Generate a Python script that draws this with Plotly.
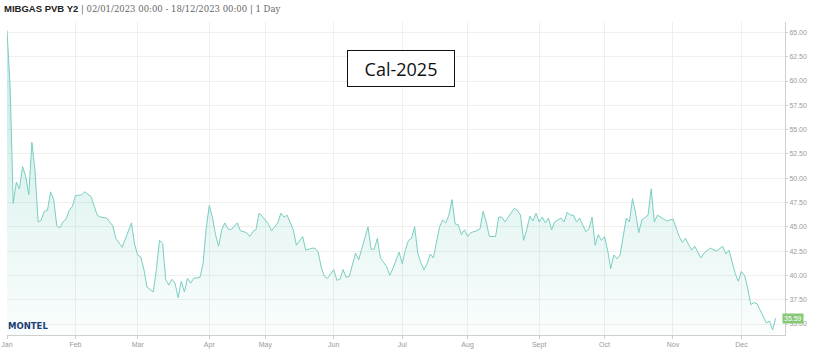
import pandas as pd
import plotly.graph_objects as go

# ---- data ----
series_name = "MIBGAS PVB Y2"
period_text = "02/01/2023 00:00 - 18/12/2023 00:00"
resolution = "1 Day"
annotation_label = "Cal-2025"
last_value = 35.59

start_date = "2023-01-02"
end_date = "2023-12-18"
exchange_holidays = ["2023-04-07", "2023-04-10", "2023-05-01"]

# trading-day index (0 = first trading day) and settlement price (EUR/MWh)
day_idx = [
    0, 1, 2, 3, 4, 5, 6, 7, 8, 9, 10, 11, 12, 13, 14, 15, 16, 17, 18, 19,
    20, 21, 22, 24, 25, 27, 29, 30, 32, 34, 35, 37, 40, 41,
    42, 43, 44, 45, 47, 48, 49, 50, 51, 52, 53, 54, 55, 56, 57, 58, 59, 60,
    62, 63, 64, 65, 66, 67, 68, 69, 70, 71, 72, 74, 75, 77, 78, 79, 80, 81, 82,
    84, 85, 87, 88, 89, 90, 92, 93, 95, 96, 98, 99, 100, 101, 102, 103,
    105, 106, 107, 108, 109, 110, 112, 113, 115, 116, 117, 118, 119, 120, 122, 123,
    124, 125, 126, 127, 128, 129, 130, 131, 132, 133, 134, 135, 136, 137, 138,
    139, 140, 141, 142, 143, 144, 145, 146, 147, 148, 149, 151, 152, 153, 154, 155,
    157, 158, 159, 160, 162, 163, 164, 165, 166, 167, 168, 169, 170, 171, 172,
    173, 174, 175, 176, 177, 178, 179, 180, 181, 182, 183, 184, 185, 186, 187,
    188, 189, 190, 191, 192, 193, 194, 195, 196, 197, 198, 199, 200, 201, 202,
    203, 204, 206, 207, 208, 209, 210, 212, 214, 216, 217, 218, 220, 221, 223,
    224, 226, 228, 230, 231, 232, 233, 234, 235, 236, 237, 238, 239, 240, 241,
    242, 244, 245, 246, 247,
]
price = [
    65.2, 59.4, 47.4, 49.6, 48.9, 51.2, 50.2, 48.3, 53.7, 50.8, 45.5, 45.7, 46.6, 46.7, 48.6, 47.8, 45.1, 44.9, 45.5, 45.8,
    46.7, 47.1, 48.2, 48.3, 48.6, 48.1, 46.2, 46.0, 45.9, 45.1, 43.8, 42.9, 45.4, 43.2,
    42.1, 41.9, 40.6, 38.8, 38.3, 40.6, 43.6, 43.3, 39.6, 39.0, 39.6, 39.2, 37.7, 39.4, 38.3, 39.7, 39.2, 39.7,
    39.8, 41.2, 44.8, 47.2, 46.0, 44.2, 43.0, 44.7, 45.4, 44.8, 44.7, 45.4, 44.6, 44.4, 44.0, 44.5, 44.7, 46.4, 46.1,
    45.3, 44.6, 45.4, 46.4, 46.0, 46.2, 44.7, 43.1, 44.0, 42.6, 42.8, 42.8, 42.4, 40.8, 39.9, 39.7,
    40.6, 39.5, 39.6, 40.6, 39.8, 39.9, 42.3, 41.6, 43.8, 45.0, 42.7, 42.7, 43.8, 41.8, 40.9, 40.0,
    40.7, 41.6, 42.4, 41.2, 42.6, 43.6, 43.8, 45.0, 42.3, 41.3, 40.6, 41.2, 42.2, 41.8, 43.6,
    45.0, 45.7, 45.4, 46.2, 47.8, 45.3, 45.2, 44.2, 44.7, 44.0, 44.4, 44.6, 44.8, 46.6, 45.5, 44.0,
    44.0, 46.0, 46.0, 45.5, 46.4, 46.9, 46.7, 46.2, 43.6, 44.7, 46.1, 45.6, 46.4, 45.5, 46.0,
    45.4, 45.9, 44.7, 45.5, 45.7, 45.9, 45.5, 46.5, 46.2, 46.2, 45.5, 45.9, 45.2, 44.5, 44.8,
    46.0, 43.1, 44.2, 43.6, 44.0, 42.6, 40.7, 42.1, 41.7, 42.1, 44.0, 45.9, 45.5, 47.9, 46.4,
    44.4, 45.7, 46.2, 48.9, 45.5, 46.2, 46.0, 45.6, 45.8, 44.0, 43.4, 43.8, 42.6, 43.0, 41.8,
    42.3, 42.8, 42.5, 43.0, 42.2, 42.6, 41.4, 40.2, 39.4, 40.4, 40.0, 38.7, 37.0, 37.2, 37.1,
    36.4, 35.1, 35.3, 34.4, 35.59,
]

month_labels = ["Jan", "Feb", "Mar", "Apr", "May", "Jun",
                "Jul", "Aug", "Sept", "Oct", "Nov", "Dec"]
y_ticks = [35.0, 37.5, 40.0, 42.5, 45.0, 47.5, 50.0, 52.5, 55.0, 57.5, 60.0, 62.5, 65.0]

# ---- derived ----
trade_days = pd.bdate_range(start_date, end_date, freq="C", holidays=exchange_holidays)
dates = trade_days[day_idx]
first_of_month = pd.Series(trade_days).groupby(trade_days.month).min().tolist()

LINE = "rgb(122,206,195)"
GRID = "#efefef"
AXIS = "#cfcfcf"
TICKFONT = dict(family="Liberation Sans", size=7, color="#9a9a9a")

fig = go.Figure()
fig.add_trace(go.Scatter(
    x=dates, y=price, mode="lines",
    line=dict(color=LINE, width=1),
    fill="tozeroy",
    fillgradient=dict(
        type="vertical", start=33.8, stop=66,
        colorscale=[[0, "rgba(140,212,202,0.04)"], [0.45, "rgba(140,212,202,0.24)"], [1, "rgba(140,212,202,0.55)"]],
    ),
    hoverinfo="x+y", showlegend=False,
))

fig.update_layout(
    width=818, height=355,
    margin=dict(l=7, r=33, t=22, b=20),
    paper_bgcolor="white", plot_bgcolor="white",
    title=dict(
        text=("<b>" + series_name + "</b>"
              "<span style='font-family:DejaVu Serif;color:#666;font-size:8.5px'> | "
              + period_text + " | " + resolution + "</span>"),
        x=4 / 818, xanchor="left", xref="container",
        y=1 - 9 / 355, yanchor="middle", yref="container",
        font=dict(family="Liberation Sans", size=9.5, color="#222"),
    ),
    xaxis=dict(
        type="date",
        rangebreaks=[dict(bounds=["sat", "mon"]), dict(values=exchange_holidays)],
        range=["2023-01-02", "2023-12-21"],
        tickmode="array", tickvals=first_of_month, ticktext=month_labels,
        showgrid=True, gridcolor=GRID, gridwidth=1,
        showline=True, linecolor=AXIS, linewidth=1,
        ticks="outside", ticklen=3, tickcolor=AXIS,
        tickfont=TICKFONT, zeroline=False, automargin=False,
    ),
    yaxis=dict(
        side="right", range=[33.87, 66.07],
        tickmode="array", tickvals=y_ticks, tickformat=".2f",
        showgrid=True, gridcolor=GRID, gridwidth=1,
        showline=True, linecolor=AXIS, linewidth=1,
        ticks="outside", ticklen=2, tickcolor=AXIS,
        tickfont=TICKFONT, zeroline=False, automargin=False,
    ),
)

# Cal-2025 box
fig.add_annotation(
    text=annotation_label, xref="paper", yref="paper",
    x=(401 - 7) / 778, y=(335 - 68.5) / 313, xanchor="center", yanchor="middle",
    showarrow=False, font=dict(family="Open Sans", size=18, color="#111"),
    bordercolor="#111", borderwidth=1, borderpad=0, bgcolor="white",
    width=106, height=35,
)

# MONTEL logo text
fig.add_annotation(
    text="<b>MONTEL</b>", xref="paper", yref="paper",
    x=0.0, y=0.005, xanchor="left", yanchor="bottom", showarrow=False, xshift=-1,
    font=dict(family="DejaVu Sans", size=8.5, color="#1d3f74"),
)

# last value badge
fig.add_annotation(
    text=f"{last_value:.2f}", xref="paper", yref="y",
    x=1.0, y=last_value, xanchor="left", yanchor="middle", xshift=-3,
    showarrow=False, font=dict(family="Liberation Sans", size=7, color="white"),
    bgcolor="#86c877", borderpad=1,
)

fig.write_html("out.html", config={"displayModeBar": False},
               post_script="document.body.style.margin='0';")
